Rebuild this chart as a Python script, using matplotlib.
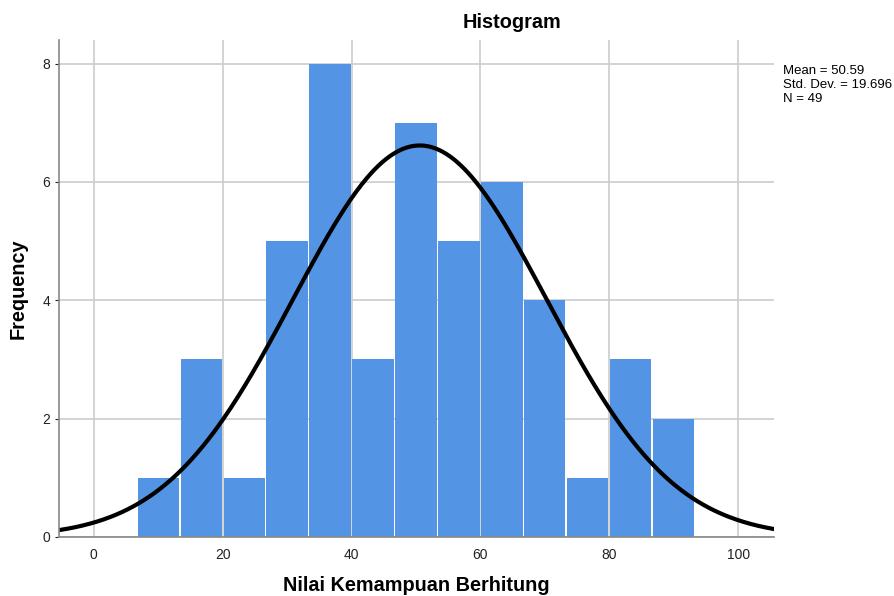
import numpy as np
import matplotlib.pyplot as plt

# bin edges and counts
bin_edges = [6.667, 13.333, 20.0, 26.667, 33.333, 40.0, 46.667, 53.333,
             60.0, 66.667, 73.333, 80.0, 86.667, 93.333]
counts = [1, 3, 1, 5, 8, 3, 7, 5, 6, 4, 1, 3, 2]

mean = 50.59
std = 19.696
n = 49

plt.rcParams['font.family'] = ['Liberation Sans', 'DejaVu Sans']

fig = plt.figure(figsize=(8.95, 5.96), dpi=100)
ax = fig.add_axes([0.066, 0.099, 0.799, 0.834])

edges = np.array(bin_edges)
widths = np.diff(edges)
gap = 0.25
ax.bar(edges[:-1] + gap / 2, counts, width=widths - gap, align='edge',
       color='#5494e4', linewidth=0, zorder=2)

# normal curve scaled to counts
bw = widths.mean()
x = np.linspace(-5.4, 105.6, 400)
y = n * bw / (std * np.sqrt(2 * np.pi)) * np.exp(-0.5 * ((x - mean) / std) ** 2)
ax.plot(x, y, color='black', linewidth=3, zorder=4)

ax.set_xlim(-5.4, 105.6)
ax.set_ylim(0, 8.4)
ax.set_xticks([0, 20, 40, 60, 80, 100])
ax.set_yticks([0, 2, 4, 6, 8])
ax.grid(True, color='#cccccc', linewidth=1.2, zorder=1)
ax.set_axisbelow(True)

for s in ['top', 'right']:
    ax.spines[s].set_visible(False)
for s in ['left', 'bottom']:
    ax.spines[s].set_color('#888888')
    ax.spines[s].set_linewidth(1.2)
    ax.spines[s].set_zorder(5)
ax.tick_params(axis='x', length=0, labelsize=10, pad=8, colors='#222222')
ax.tick_params(axis='y', length=3, labelsize=10, colors='#222222')

fig.text(512 / 895, 1 - 22 / 596, 'Histogram', fontsize=14.3, fontweight='bold',
         ha='center', va='center')
ax.set_xlabel('Nilai Kemampuan Berhitung', fontsize=14.3, fontweight='bold')
ax.xaxis.set_label_coords(0.5, -0.097)
ax.xaxis.label.set_va('center')
ax.set_ylabel('Frequency', fontsize=14.3, fontweight='bold')
ax.yaxis.set_label_coords(-0.057, 0.5)
ax.yaxis.label.set_va('center')

fig.text(0.875, 1 - 65 / 596, 'Mean = %.2f\nStd. Dev. = %.3f\nN = %d' % (mean, std, n),
         fontsize=9.5, va='top', ha='left', linespacing=1.2)

fig.savefig('out.png', dpi=100)
